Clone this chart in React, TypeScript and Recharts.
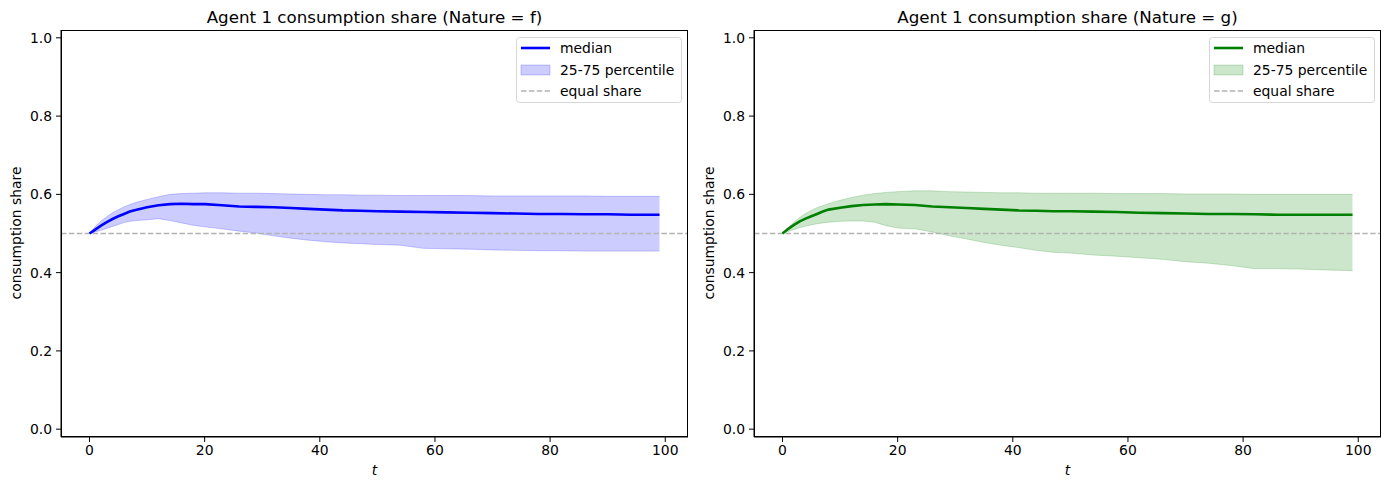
import React from 'react';
import { ComposedChart, Line, Area, XAxis, YAxis, ReferenceLine, Legend } from 'recharts';

// time steps sampled from the plot
const T = [0, 1, 2, 3, 4, 5, 6, 7, 8, 10, 12, 14, 16, 18, 20, 23, 26, 29, 32, 35, 38, 41, 44, 47, 50, 54, 58, 62, 66, 70, 74, 78, 82, 86, 90, 94, 99];

// Nature = f
const F_MEDIAN = [0.5, 0.51, 0.52, 0.529, 0.537, 0.544, 0.55, 0.556, 0.56, 0.567, 0.572, 0.575, 0.576, 0.575, 0.575, 0.572, 0.569, 0.568, 0.567, 0.565, 0.563, 0.561, 0.559, 0.558, 0.557, 0.556, 0.555, 0.554, 0.553, 0.552, 0.551, 0.55, 0.55, 0.549, 0.549, 0.548, 0.548];
const F_Q75 = [0.5, 0.518, 0.532, 0.543, 0.553, 0.561, 0.568, 0.574, 0.579, 0.587, 0.594, 0.6, 0.602, 0.603, 0.604, 0.604, 0.603, 0.603, 0.602, 0.601, 0.6, 0.599, 0.599, 0.598, 0.598, 0.597, 0.597, 0.597, 0.597, 0.596, 0.596, 0.596, 0.596, 0.596, 0.595, 0.595, 0.595];
const F_Q25 = [0.5, 0.504, 0.508, 0.513, 0.518, 0.523, 0.528, 0.531, 0.533, 0.535, 0.538, 0.533, 0.527, 0.521, 0.517, 0.512, 0.506, 0.501, 0.494, 0.488, 0.483, 0.479, 0.476, 0.474, 0.472, 0.47, 0.462, 0.461, 0.46, 0.458, 0.457, 0.456, 0.456, 0.455, 0.455, 0.455, 0.455];

// Nature = g
const G_MEDIAN = [0.5, 0.512, 0.522, 0.531, 0.538, 0.544, 0.55, 0.556, 0.561, 0.566, 0.57, 0.573, 0.574, 0.575, 0.574, 0.573, 0.569, 0.567, 0.565, 0.563, 0.561, 0.559, 0.558, 0.557, 0.557, 0.556, 0.555, 0.553, 0.552, 0.551, 0.55, 0.55, 0.549, 0.548, 0.548, 0.548, 0.548];
const G_Q75 = [0.5, 0.515, 0.529, 0.541, 0.551, 0.559, 0.566, 0.571, 0.576, 0.585, 0.592, 0.598, 0.602, 0.605, 0.607, 0.609, 0.609, 0.607, 0.606, 0.605, 0.604, 0.604, 0.603, 0.603, 0.603, 0.603, 0.602, 0.602, 0.602, 0.601, 0.601, 0.601, 0.6, 0.6, 0.6, 0.6, 0.6];
const G_Q25 = [0.5, 0.505, 0.51, 0.515, 0.519, 0.522, 0.525, 0.527, 0.529, 0.531, 0.532, 0.532, 0.529, 0.52, 0.514, 0.512, 0.504, 0.494, 0.486, 0.477, 0.47, 0.464, 0.457, 0.452, 0.45, 0.445, 0.442, 0.438, 0.434, 0.428, 0.424, 0.418, 0.41, 0.41, 0.409, 0.407, 0.405];

const X_TICKS = [0, 20, 40, 60, 80, 100];
const Y_TICKS = [0, 0.2, 0.4, 0.6, 0.8, 1.0];
const EQUAL_SHARE = 0.5;

const FONT = '"DejaVu Sans", sans-serif';
const FS = 13.9;
const GRAY = '#b3b3b3';

function LegendBox({ color }: { color: string }) {
  const row = (handle: React.ReactNode, label: string, y: number) => (
    <g key={label}>
      {handle}
      <text x={44} y={y + 5} fontSize={FS} fontFamily={FONT} fill="#000">{label}</text>
    </g>
  );
  return (
    <svg width={167} height={67} style={{ display: 'block' }}>
      <rect x={0.5} y={0.5} width={165} height={65} rx={3} fill="#fff" fillOpacity={0.8} stroke="#d6d6d6" />
      {row(<line x1={5} x2={34} y1={11} y2={11} stroke={color} strokeWidth={2.6} />, 'median', 11)}
      {row(<rect x={5} y={28} width={29} height={10} fill={color} fillOpacity={0.2} stroke={color} strokeOpacity={0.2} />, '25-75 percentile', 33)}
      {row(<line x1={5} x2={34} y1={54} y2={54} stroke={GRAY} strokeWidth={1.5} strokeDasharray="5.5 2.4" />, 'equal share', 54)}
    </svg>
  );
}

function Panel({ title, color, median, q25, q75, left, marginLeft, marginRight }: any) {
  const data = T.map((t, i) => ({ t, median: median[i], band: [q25[i], q75[i]] }));
  const plotLeft = marginLeft + 40;
  const plotW = 627;
  return (
    <div style={{ position: 'absolute', left, top: 0, width: 694, height: 490 }}>
      <ComposedChart width={694} height={490} data={data}
        margin={{ top: 30, right: marginRight, bottom: 23, left: marginLeft }}>
        <XAxis dataKey="t" type="number" domain={[-4.95, 103.95]} ticks={X_TICKS} allowDataOverflow
          height={30} tickSize={5} tickMargin={3} stroke="#000"
          tick={{ fill: '#000', fontSize: FS, fontFamily: FONT }} />
        <YAxis type="number" domain={[-0.02, 1.02]} ticks={Y_TICKS} allowDataOverflow width={40}
          tickSize={5} tickMargin={4} stroke="#000" tickFormatter={(v: number) => v.toFixed(1)}
          tick={{ fill: '#000', fontSize: FS, fontFamily: FONT }} />
        <Area dataKey="band" type="linear" fill={color} fillOpacity={0.2} stroke={color} strokeOpacity={0.2}
          strokeWidth={1} isAnimationActive={false} />
        <ReferenceLine y={EQUAL_SHARE} stroke={GRAY} strokeWidth={1.5} strokeDasharray="5.5 2.4" />
        <Line dataKey="median" type="linear" stroke={color} strokeWidth={2.6} dot={false} isAnimationActive={false} />
        <Legend layout="vertical" align="center" verticalAlign="middle"
          wrapperStyle={{ position: 'absolute', top: 37, left: plotLeft + plotW - 172, width: 167, height: 67 }}
          content={() => <LegendBox color={color} />} />
      </ComposedChart>
      {/* frame on top / right like matplotlib spines */}
      <div style={{ position: 'absolute', left: plotLeft, top: 30, width: plotW, height: 407, border: '1px solid #000', boxSizing: 'border-box', pointerEvents: 'none' }} />
      <div style={{ position: 'absolute', left: plotLeft, width: plotW, top: 7, textAlign: 'center', fontSize: 16.7, fontFamily: FONT }}>{title}</div>
      <div style={{ position: 'absolute', left: plotLeft, width: plotW, top: 462, textAlign: 'center', fontSize: FS, fontFamily: FONT, fontStyle: 'italic' }}>t</div>
      <div style={{ position: 'absolute', left: plotLeft - 45, top: 233, width: 0, height: 0 }}>
        <div style={{ position: 'absolute', transform: 'translate(-50%, -50%) rotate(-90deg)', whiteSpace: 'nowrap', fontSize: FS, fontFamily: FONT }}>consumption share</div>
      </div>
    </div>
  );
}

export default function App() {
  return (
    <div style={{ position: 'absolute', left: 0, top: 0, width: 1390, height: 490, background: '#fff', overflow: 'hidden' }}>
      <Panel title="Agent 1 consumption share (Nature = f)" color="#0000ff"
        median={F_MEDIAN} q25={F_Q25} q75={F_Q75} left={0} marginLeft={21} marginRight={6} />
      <Panel title="Agent 1 consumption share (Nature = g)" color="#008000"
        median={G_MEDIAN} q25={G_Q25} q75={G_Q75} left={694} marginLeft={20} marginRight={7} />
    </div>
  );
}
